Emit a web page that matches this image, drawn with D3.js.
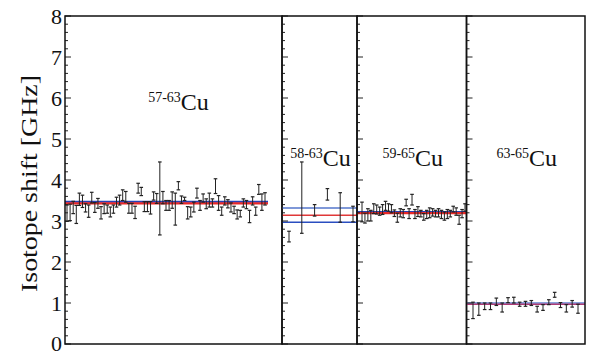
<!DOCTYPE html>
<html>
<head>
<meta charset="utf-8">
<script src="https://cdn.jsdelivr.net/npm/d3@7"></script>
<style>
  html, body { margin: 0; padding: 0; background: #fff; }
  svg { display: block; }
</style>
</head>
<body>
<svg id="chart" width="600" height="352"></svg>
<script>
// Isotope shifts per pair, in GHz, with their uncertainties
const yTicks = [0, 1, 2, 3, 4, 5, 6, 7, 8];
const pairLabels = [["57-63", "Cu"], ["58-63", "Cu"], ["59-65", "Cu"], ["63-65", "Cu"]];

const shift5763 = [3.19, 3.21, 3.33, 3.16, 3.53, 3.48, 3.32, 3.24, 3.57, 3.33, 3.43, 3.20, 3.30, 3.29, 3.22, 3.29,
  3.46, 3.51, 3.63, 3.59, 3.31, 3.31, 3.21, 3.80, 3.72, 3.35, 3.35, 3.32, 3.61, 3.55, 3.55, 3.57, 3.38, 3.38,
  3.51, 3.29, 3.86, 3.52, 3.54, 3.20, 3.22, 3.34, 3.68, 3.38, 3.56, 3.42, 3.51, 3.44, 3.85, 3.44, 3.24, 3.49,
  3.42, 3.33, 3.27, 3.16, 3.18, 3.44, 3.40, 3.11, 3.49, 3.24, 3.77, 3.46, 3.54];
const err5763 = [0.20, 0.20, 0.15, 0.22, 0.15, 0.15, 0.10, 0.15, 0.13, 0.12, 0.12, 0.15, 0.12, 0.10, 0.12, 0.10,
  0.12, 0.12, 0.13, 0.13, 0.12, 0.12, 0.15, 0.12, 0.10, 0.12, 0.12, 0.15, 0.10, 0.12, 0.89, 0.15, 0.12, 0.12,
  0.20, 0.39, 0.10, 0.09, 0.04, 0.15, 0.12, 0.12, 0.12, 0.12, 0.10, 0.12, 0.17, 0.10, 0.18, 0.18, 0.10, 0.10,
  0.10, 0.11, 0.09, 0.11, 0.08, 0.10, 0.10, 0.15, 0.10, 0.10, 0.12, 0.20, 0.15];

const shift5863 = [2.62, 3.57, 3.26, 3.65, 3.33, 3.17];
const err5863 = [0.13, 0.87, 0.14, 0.14, 0.36, 0.19];

const shift5965 = [3.22, 3.07, 3.15, 3.13, 3.30, 3.28, 3.24, 3.28, 3.37, 3.33, 3.30, 3.19, 3.08, 3.20, 3.18, 3.45,
  3.18, 3.52, 3.17, 3.23, 3.18, 3.10, 3.16, 3.20, 3.21, 3.18, 3.20, 3.16, 3.12, 3.17, 3.18, 3.29, 3.23, 3.03,
  3.18, 3.33];
const err5965 = [0.24, 0.12, 0.15, 0.13, 0.12, 0.11, 0.10, 0.12, 0.11, 0.09, 0.10, 0.08, 0.11, 0.10, 0.10, 0.08,
  0.12, 0.13, 0.11, 0.12, 0.08, 0.08, 0.10, 0.12, 0.09, 0.08, 0.10, 0.10, 0.10, 0.11, 0.08, 0.07, 0.09, 0.11,
  0.10, 0.09];

const shift6365 = [0.82, 0.85, 0.92, 0.92, 1.03, 0.89, 1.07, 1.07, 0.97, 0.98, 1.00, 0.85, 0.89, 1.02, 1.20, 0.95,
  0.87, 0.98, 0.86];
const err6365 = [0.20, 0.15, 0.08, 0.08, 0.09, 0.11, 0.06, 0.07, 0.05, 0.06, 0.06, 0.07, 0.07, 0.06, 0.06, 0.06,
  0.09, 0.08, 0.11];

// Reference values drawn as horizontal lines in each panel
const blueUpper = [3.47, 3.32, 3.22, 0.99];
const blueLower = [null, 2.97, null, null];
const redMean = [3.43, 3.14, 3.19, 0.97];

const seriesValues = [shift5763, shift5863, shift5965, shift6365];
const seriesErrors = [err5763, err5863, err5965, err6365];

// Panel geometry (pixels): frame edges, extent of points, extent of reference lines
const panels = [
  { x0: 65, x1: 282, p0: 67, p1: 265, l1: 268, labelY: 110 },
  { x0: 282, x1: 357, p0: 289, p1: 353, l1: 357, labelY: 166 },
  { x0: 357, x1: 466.5, p0: 362, p1: 465, l1: 466.5, labelY: 166 },
  { x0: 466.5, x1: 585, p0: 473, p1: 578, l1: 585, labelY: 166 }
];

const fontStack = "'Liberation Serif', 'Times New Roman', 'DejaVu Serif', serif";
const svg = d3.select("#chart");
const y = d3.scaleLinear().domain([0, 8]).range([344, 16]);
const minorTicks = d3.range(0, 8.0001, 0.2);

panels.forEach((p, i) => {
  const g = svg.append("g");
  const vals = seriesValues[i], errs = seriesErrors[i];
  const x = d3.scaleLinear().domain([0, vals.length - 1]).range([p.p0, p.p1]);

  // reference lines
  const line = (v, color, w, op) => {
    if (v == null) return;
    g.append("line")
      .attr("x1", p.x0).attr("x2", p.l1)
      .attr("y1", y(v)).attr("y2", y(v))
      .attr("stroke", color).attr("stroke-width", w).attr("opacity", op);
  };
  if (i === 1) {
    line(blueUpper[i], "#7f98d8", 2, 1);
    line(blueLower[i], "#2a4ec0", 1.6, 1);
    line(redMean[i], "#e03838", 1.6, 1);
  } else if (i === 3) {
    line(blueUpper[i], "#8aa2dc", 3, 1);
    line(redMean[i], "#b0306a", 1.4, 0.9);
  } else {
    line(blueUpper[i], "#2840b8", 2, 1);
    line(redMean[i], "#e82828", 2.2, 1);
  }

  // error bars
  const bars = g.selectAll("g.bar").data(vals).join("g").attr("class", "bar");
  bars.append("line")
    .attr("x1", (d, k) => x(k)).attr("x2", (d, k) => x(k))
    .attr("y1", (d, k) => y(d + errs[k])).attr("y2", (d, k) => y(d - errs[k]))
    .attr("stroke", "#222").attr("stroke-width", 1);
  [1, -1].forEach(s => {
    bars.append("line")
      .attr("x1", (d, k) => x(k) - 1.8).attr("x2", (d, k) => x(k) + 1.8)
      .attr("y1", (d, k) => y(d + s * errs[k])).attr("y2", (d, k) => y(d + s * errs[k]))
      .attr("stroke", "#222").attr("stroke-width", 1.2);
  });

  // inward ticks on the panel's left edge
  g.selectAll("line.minor").data(minorTicks).join("line")
    .attr("x1", p.x0).attr("x2", d => p.x0 + (Math.abs(d - Math.round(d)) < 1e-6 ? 6 : 3))
    .attr("y1", d => y(d)).attr("y2", d => y(d))
    .attr("stroke", "#222").attr("stroke-width", 1);

  // frame
  g.append("rect")
    .attr("x", p.x0).attr("y", y(8))
    .attr("width", p.x1 - p.x0).attr("height", y(0) - y(8))
    .attr("fill", "none").attr("stroke", "#111").attr("stroke-width", 1.5);

  // pair label
  const t = g.append("text")
    .attr("x", (p.x0 + p.x1) / 2 + (i === 0 ? 5 : 1)).attr("y", p.labelY)
    .attr("text-anchor", "middle").attr("fill", "#111")
    .style("font-family", fontStack);
  t.append("tspan").attr("font-size", 14).attr("baseline-shift", "8").text(pairLabels[i][0]);
  t.append("tspan").attr("font-size", 24).text(pairLabels[i][1]);
});

// y axis labels
svg.append("g").selectAll("text").data(yTicks).join("text")
  .attr("x", 62).attr("y", d => y(d) - (d === 0 ? 1 : 0))
  .attr("text-anchor", "end").attr("dominant-baseline", "central")
  .style("font-family", fontStack)
  .attr("font-size", 22).attr("fill", "#111")
  .text(d => d);

svg.append("text")
  .attr("transform", "translate(36.5,183.5) rotate(-90)")
  .attr("text-anchor", "middle")
  .style("font-family", fontStack)
  .attr("font-size", 23).attr("fill", "#111")
  .attr("textLength", 217).attr("lengthAdjust", "spacingAndGlyphs")
  .text("Isotope shift [GHz]");
</script>
</body>
</html>
